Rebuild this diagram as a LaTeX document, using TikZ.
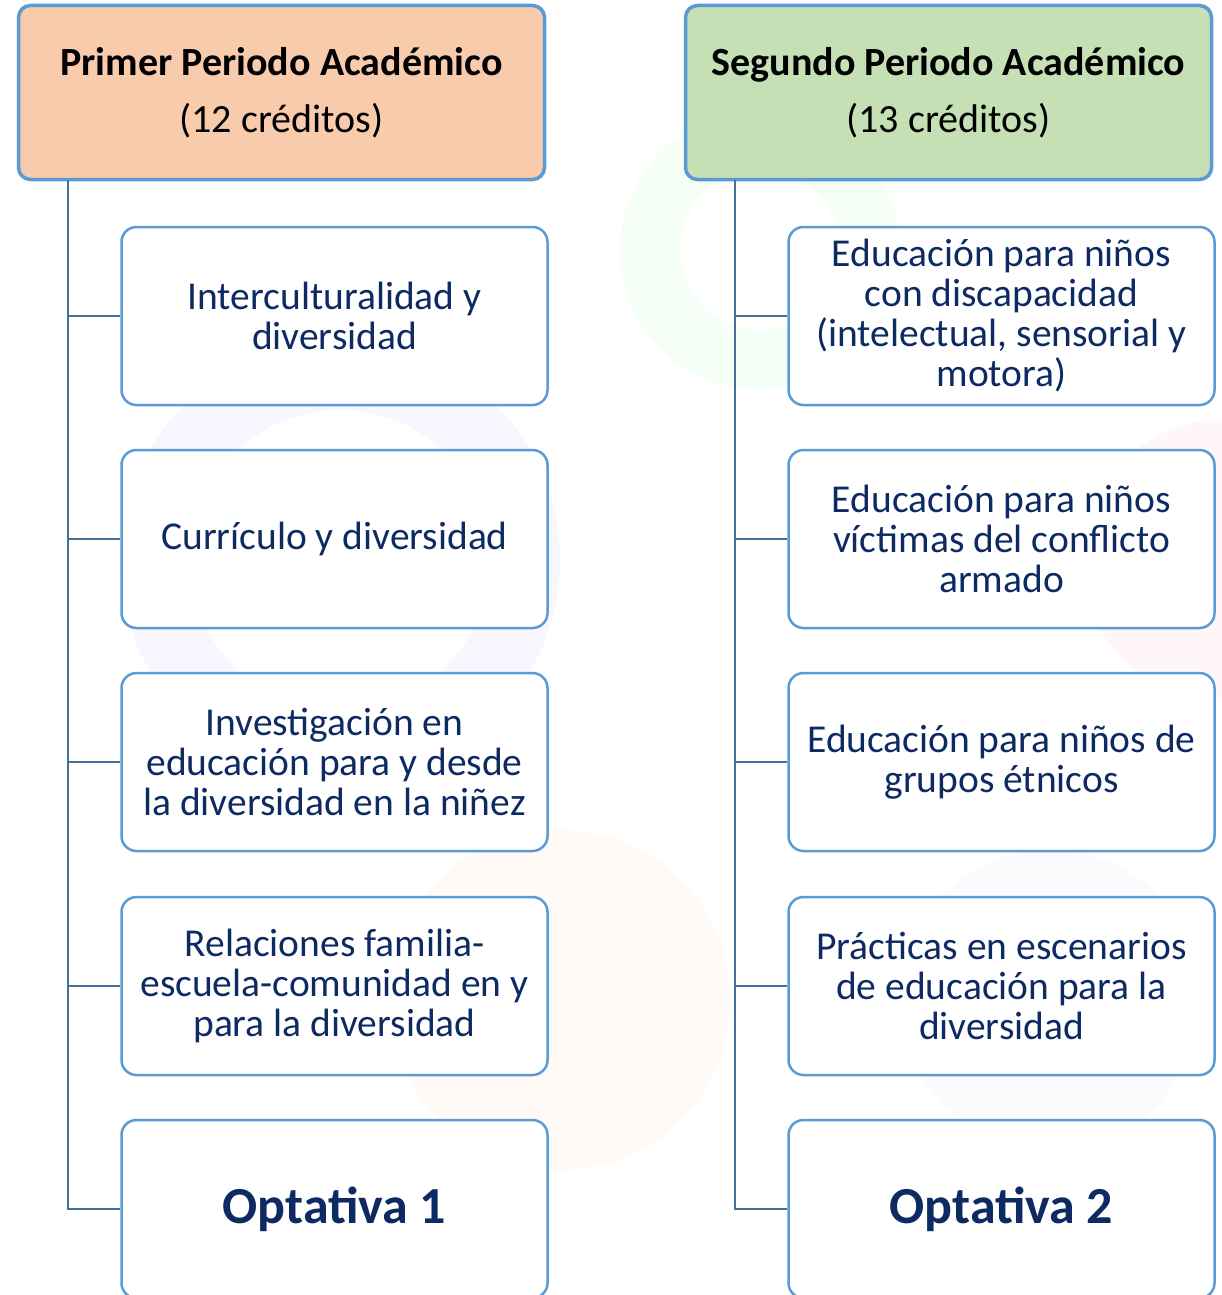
\documentclass[tikz,border=0pt]{standalone}
\usepackage{fontspec}
\setmainfont{Carlito}
\definecolor{navy}{HTML}{0E2A63}
\definecolor{boxblue}{HTML}{5B9BD5}
\definecolor{linecol}{HTML}{41719C}
\definecolor{peach}{HTML}{F8CBAD}
\definecolor{mint}{HTML}{C5E0B4}
\tikzset{
  hdr/.style={draw=boxblue, line width=3.5pt, rounded corners=12pt, minimum width=526pt, minimum height=174pt, align=center, font=\fontsize{40}{57}\selectfont, text=black, inner sep=0pt},
  item/.style={draw=boxblue, line width=2.5pt, rounded corners=15pt, fill=white, minimum width=426pt, minimum height=178pt, align=center, font=\fontsize{39.5}{40}\selectfont, text=navy, inner sep=0pt},
  opt/.style={item, font=\fontsize{52}{56}\selectfont\bfseries},
  conn/.style={draw=linecol, line width=2.8pt}
}
\begin{document}
\begin{tikzpicture}[x=1pt,y=1pt]
\clip (0,0) rectangle (1222,-1295);
\fill[white] (0,0) rectangle (1222,-1295);
% faint background decoration
\fill[blue!3] (340,-560) circle (220);
\fill[white] (340,-560) circle (150);
\fill[orange!4] (560,-1000) circle (170);
\fill[green!4] (760,-250) circle (140);
\fill[white] (760,-250) circle (80);
\fill[red!3] (1222,-560) circle (140);
\fill[violet!2] (1050,-1000) circle (150);

% headers
\node[hdr, fill=peach] (h1) at (281.5,-92.5) {\textbf{Primer Periodo Académico}\\(12 créditos)};
\node[hdr, fill=mint] (h2) at (948.5,-92.5) {\textbf{Segundo Periodo Académico}\\(13 créditos)};

% left column
\node[item] (a1) at (334.5,-316) {Interculturalidad y\\diversidad};
\node[item] (a2) at (334.5,-539) {Currículo y diversidad};
\node[item] (a3) at (334.5,-762) {Investigación en\\educación para y desde\\la diversidad en la niñez};
\node[item] (a4) at (334.5,-986) {Relaciones familia-\\escuela-comunidad en y\\para la diversidad};
\node[opt] (a5) at (334.5,-1209) {Optativa 1};

% right column
\node[item] (b1) at (1001.5,-316) {Educación para niños\\con discapacidad\\(intelectual, sensorial y\\motora)};
\node[item] (b2) at (1001.5,-539) {Educación para niños\\víctimas del conflicto\\armado};
\node[item] (b3) at (1001.5,-762) {Educación para niños de\\grupos étnicos};
\node[item] (b4) at (1001.5,-986) {Prácticas en escenarios\\de educación para la\\diversidad};
\node[opt] (b5) at (1001.5,-1209) {Optativa 2};

% connectors left
\coordinate (ta) at (68,-180);
\draw[conn] (ta) |- (a5.west);
\foreach \n in {a1,a2,a3,a4} \draw[conn] (ta |- \n.west) -- (\n.west);
% connectors right
\coordinate (tb) at (735,-180);
\draw[conn] (tb) |- (b5.west);
\foreach \n in {b1,b2,b3,b4} \draw[conn] (tb |- \n.west) -- (\n.west);
\end{tikzpicture}
\end{document}
